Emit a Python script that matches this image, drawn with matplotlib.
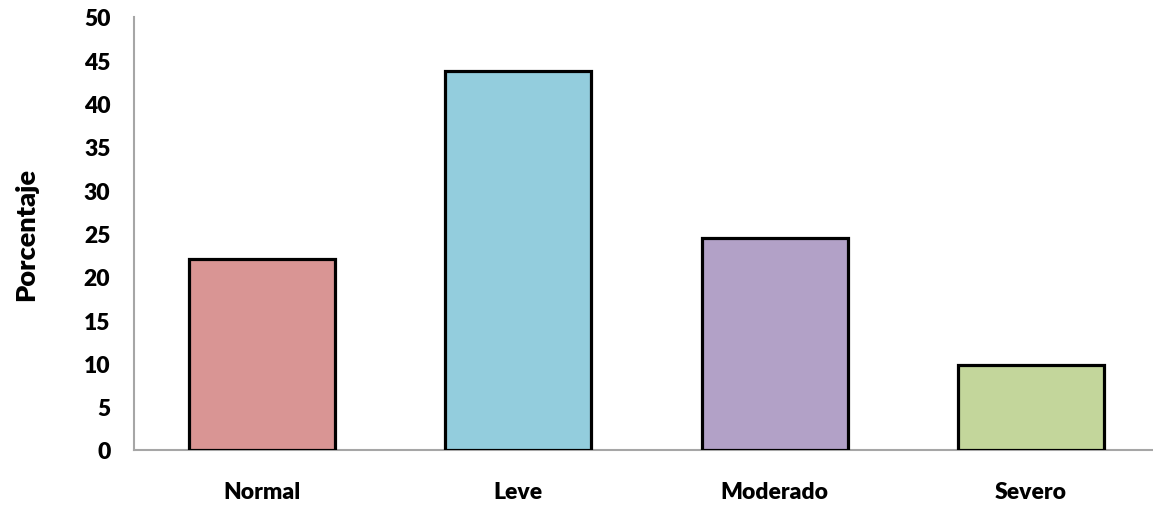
import matplotlib.pyplot as plt
import numpy as np

# Severity categories and their percentages
categories = ["Normal", "Leve", "Moderado", "Severo"]
percentages = [22.1, 43.8, 24.5, 9.8]
bar_colors = ["#D99594", "#93CDDD", "#B2A1C7", "#C3D69B"]
y_ticks = [0, 5, 10, 15, 20, 25, 30, 35, 40, 45, 50]

plt.rcParams['font.family'] = ['Lato', 'DejaVu Sans']

fig = plt.figure(figsize=(11.53, 5.06), dpi=100)
ax = fig.add_axes([134 / 1153, 1 - 451 / 506, (1159 - 134) / 1153, (451 - 18) / 506])

x = np.arange(len(categories))
ax.bar(x, percentages, width=0.57, color=bar_colors, edgecolor="black", linewidth=2.3, zorder=3)

ax.set_xlim(-0.5, len(categories) - 0.5)
ax.set_ylim(0, 50)
ax.set_yticks(y_ticks)
ax.set_xticks(x)
ax.set_xticklabels(categories)

for side in ["top", "right"]:
    ax.spines[side].set_visible(False)
for side in ["left", "bottom"]:
    ax.spines[side].set_color("#A6A6A6")
    ax.spines[side].set_linewidth(1.5)

ax.tick_params(axis="y", length=0, pad=17, labelsize=16.5)
ax.tick_params(axis="x", length=0, pad=22, labelsize=16.5)
for lbl in ax.get_xticklabels() + ax.get_yticklabels():
    lbl.set_fontweight("heavy")

ax.set_ylabel("Porcentaje", fontsize=19.5, fontweight="heavy", labelpad=33)

fig.savefig("out.png", dpi=100)
